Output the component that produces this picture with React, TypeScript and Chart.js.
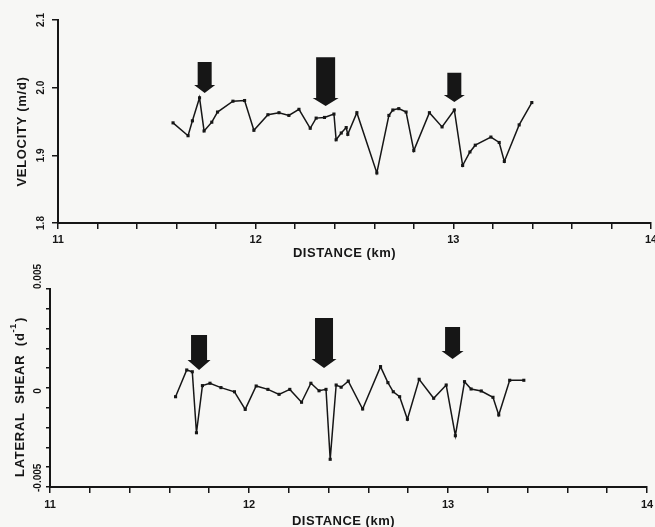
import React, { useEffect, useRef } from 'react';
import { Chart, registerables } from 'chart.js';

Chart.register(...registerables);

// ---------- data ----------
const velocityKm = [11.582, 11.658, 11.680, 11.716, 11.739, 11.778, 11.807, 11.885, 11.944, 11.991, 12.062, 12.118, 12.168, 12.219, 12.276, 12.306, 12.348, 12.396, 12.407, 12.433, 12.458, 12.466, 12.512, 12.613, 12.674, 12.694, 12.724, 12.761, 12.800, 12.879, 12.943, 13.005, 13.047, 13.084, 13.111, 13.190, 13.232, 13.258, 13.333, 13.397];
const velocityValues = [1.948, 1.929, 1.951, 1.985, 1.936, 1.949, 1.964, 1.980, 1.981, 1.937, 1.960, 1.963, 1.959, 1.968, 1.940, 1.955, 1.956, 1.961, 1.923, 1.933, 1.941, 1.931, 1.963, 1.874, 1.959, 1.967, 1.969, 1.964, 1.907, 1.963, 1.942, 1.967, 1.885, 1.905, 1.915, 1.927, 1.919, 1.891, 1.945, 1.978];

const shearKm = [11.631, 11.687, 11.715, 11.736, 11.766, 11.804, 11.859, 11.927, 11.981, 12.036, 12.095, 12.151, 12.205, 12.264, 12.311, 12.352, 12.387, 12.408, 12.438, 12.463, 12.499, 12.571, 12.661, 12.698, 12.725, 12.757, 12.796, 12.855, 12.928, 12.991, 13.037, 13.083, 13.116, 13.167, 13.226, 13.255, 13.310, 13.381];
const shearValues = [-0.00044, 0.00091, 0.00082, -0.00226, 0.00012, 0.00024, 0.00002, -0.00019, -0.00108, 0.00010, -0.00007, -0.00032, -0.00007, -0.00072, 0.00024, -0.00014, -0.00007, -0.00360, 0.00015, 0.00004, 0.00035, -0.00106, 0.00108, 0.00027, -0.00019, -0.00044, -0.00158, 0.00044, -0.00052, 0.00015, -0.00241, 0.00032, -0.00005, -0.00015, -0.00047, -0.00136, 0.00039, 0.00039];

const distanceTickValues = [11, 12, 13, 14];
const distanceTickLabels = ['11', '12', '13', '14'];
const velocityTickValues = [1.8, 1.9, 2.0, 2.1];
const velocityTickLabels = ['1.8', '1.9', '2.0', '2.1'];
const shearTickValues = [-0.005, 0, 0.005];
const shearTickLabels = ['-0.005', '0', '0.005'];

// arrow annotations (data units): centre km, top value, tip value
const velocityArrowKm = [11.742, 12.354, 13.005];
const velocityArrowTop = [2.038, 2.045, 2.022];
const velocityArrowTip = [1.992, 1.973, 1.979];
const shearArrowKm = [11.749, 12.377, 13.023];
const shearArrowTop = [0.00268, 0.00354, 0.00308];
const shearArrowTip = [0.00091, 0.00101, 0.00146];

// ---------- styles ----------
const INK = '#161616';
const BG = '#f7f7f5';
const FONT = '"Liberation Sans", Arial, Helvetica, sans-serif';

type PanelCfg = {
  top: number;
  height: number;
  padding: { left: number; right: number; top: number; bottom: number };
  xs: number[];
  ys: number[];
  yMin: number;
  yMax: number;
  yStep: number;
  yTickLen: number;
  yTickValues: number[];
  yTickLabels: string[];
  yTickAlign: ('center' | 'left')[];
  yTickDy: number[];
  yTickDx: number;
  xTickDy: number;
  xTitleDy: number;
  xTitleDx: number;
  yTitleDx: number;
  yTitleDy: number;
  yTitle: string;
  yTitleSup?: string;
  yTitleEnd?: string;
  arrowKm: number[];
  arrowTop: number[];
  arrowTip: number[];
  arrowHalf: number[];
  arrowHead: number[];
};

function overlay(cfg: PanelCfg) {
  return {
    id: 'overlay',
    afterDraw(chart: any) {
      const { ctx, chartArea } = chart;
      const xs = chart.scales.x;
      const ys = chart.scales.y;
      ctx.save();
      ctx.fillStyle = INK;

      // arrows
      cfg.arrowKm.forEach((km, i) => {
        const xc = xs.getPixelForValue(km);
        const yTop = ys.getPixelForValue(cfg.arrowTop[i]);
        const yTip = ys.getPixelForValue(cfg.arrowTip[i]);
        const w = cfg.arrowHalf[i];
        const h = cfg.arrowHead[i];
        const e = 3.5;
        ctx.beginPath();
        ctx.moveTo(xc - w, yTop);
        ctx.lineTo(xc + w, yTop);
        ctx.lineTo(xc + w, yTip - h);
        ctx.lineTo(xc + w + e, yTip - h);
        ctx.lineTo(xc, yTip);
        ctx.lineTo(xc - w - e, yTip - h);
        ctx.lineTo(xc - w, yTip - h);
        ctx.closePath();
        ctx.fill();
      });

      // x tick labels
      ctx.font = `bold 11px ${FONT}`;
      ctx.textAlign = 'center';
      ctx.textBaseline = 'middle';
      distanceTickValues.forEach((v, i) => {
        ctx.fillText(distanceTickLabels[i], xs.getPixelForValue(v), chartArea.bottom + cfg.xTickDy);
      });

      // x title
      ctx.font = `bold 13px ${FONT}`;
      (ctx as any).letterSpacing = '0.5px';
      ctx.fillText('DISTANCE (km)', (chartArea.left + chartArea.right) / 2 + cfg.xTitleDx, chartArea.bottom + cfg.xTitleDy);

      // y tick labels (rotated)
      (ctx as any).letterSpacing = '0px';
      ctx.font = `bold 10px ${FONT}`;
      cfg.yTickValues.forEach((v, i) => {
        const y = ys.getPixelForValue(v) + cfg.yTickDy[i];
        ctx.save();
        ctx.translate(chartArea.left + cfg.yTickDx, y);
        ctx.rotate(-Math.PI / 2);
        ctx.textAlign = cfg.yTickAlign[i];
        ctx.textBaseline = 'middle';
        ctx.fillText(cfg.yTickLabels[i], 0, 0);
        ctx.restore();
      });

      // y title (rotated)
      ctx.save();
      ctx.translate(chartArea.left + cfg.yTitleDx, (chartArea.top + chartArea.bottom) / 2 + cfg.yTitleDy);
      ctx.rotate(-Math.PI / 2);
      ctx.font = `bold 13px ${FONT}`;
      (ctx as any).letterSpacing = '0.7px';
      ctx.textBaseline = 'middle';
      const main = cfg.yTitle;
      const sup = cfg.yTitleSup || '';
      const end = cfg.yTitleEnd || '';
      const wMain = ctx.measureText(main).width;
      const wEnd = ctx.measureText(end).width;
      ctx.font = `bold 9px ${FONT}`;
      const wSup = sup ? ctx.measureText(sup).width + 1 : 0;
      const total = wMain + wSup + wEnd;
      let x0 = -total / 2;
      ctx.textAlign = 'left';
      ctx.font = `bold 13px ${FONT}`;
      ctx.fillText(main, x0, 0);
      x0 += wMain;
      if (sup) {
        ctx.font = `bold 9px ${FONT}`;
        ctx.fillText(sup, x0, -6);
        x0 += wSup;
      }
      if (end) {
        ctx.font = `bold 13px ${FONT}`;
        ctx.fillText(end, x0, 0);
      }
      ctx.restore();

      ctx.restore();
    },
  };
}

function Panel({ cfg }: { cfg: PanelCfg }) {
  const ref = useRef<HTMLCanvasElement | null>(null);
  useEffect(() => {
    if (!ref.current) return;
    const points = cfg.xs.map((x, i) => ({ x, y: cfg.ys[i] }));
    const chart = new Chart(ref.current, {
      type: 'line',
      data: {
        datasets: [
          {
            data: points,
            borderColor: INK,
            backgroundColor: INK,
            borderWidth: 1.5,
            pointRadius: 2.2,
            pointStyle: 'rect',
            pointBorderWidth: 0,
            pointBackgroundColor: INK,
            tension: 0,
          },
        ],
      },
      options: {
        responsive: false,
        animation: false,
        devicePixelRatio: 1,
        layout: { padding: cfg.padding },
        plugins: { legend: { display: false }, tooltip: { enabled: false }, title: { display: false } },
        scales: {
          x: {
            type: 'linear',
            min: 11,
            max: 14,
            ticks: { display: false, stepSize: 0.2 },
            grid: { display: true, drawOnChartArea: false, drawTicks: true, tickLength: 6, color: INK, lineWidth: 1.5 },
            border: { display: true, color: INK, width: 2 },
          },
          y: {
            type: 'linear',
            min: cfg.yMin,
            max: cfg.yMax,
            ticks: { display: false, stepSize: cfg.yStep },
            grid: { display: true, drawOnChartArea: false, drawTicks: true, tickLength: cfg.yTickLen, color: INK, lineWidth: 1.5 },
            border: { display: true, color: INK, width: 2 },
          },
        },
      },
      plugins: [overlay(cfg)],
    } as any);
    return () => chart.destroy();
  }, []);
  return (
    <canvas
      ref={ref}
      width={655}
      height={cfg.height}
      style={{ position: 'absolute', left: 0, top: cfg.top, width: 655, height: cfg.height }}
    />
  );
}

const velocityPanel: PanelCfg = {
  top: 0,
  height: 264,
  padding: { left: 52, right: 3, top: 20, bottom: 35 },
  xs: velocityKm,
  ys: velocityValues,
  yMin: 1.8,
  yMax: 2.1,
  yStep: 0.1,
  yTickLen: 6,
  yTickValues: velocityTickValues,
  yTickLabels: velocityTickLabels,
  yTickAlign: ['center', 'center', 'center', 'center'],
  yTickDy: [0, 0, 0, 0],
  yTickDx: -17,
  xTickDy: 17,
  xTitleDy: 30,
  xTitleDx: -10,
  yTitleDx: -36,
  yTitleDy: 10,
  yTitle: 'VELOCITY (m/d)',
  arrowKm: velocityArrowKm,
  arrowTop: velocityArrowTop,
  arrowTip: velocityArrowTip,
  arrowHalf: [7, 9.5, 7],
  arrowHead: [8, 8, 7],
};

const shearPanel: PanelCfg = {
  top: 264,
  height: 263,
  padding: { left: 46, right: 8, top: 25, bottom: 34 },
  xs: shearKm,
  ys: shearValues,
  yMin: -0.005,
  yMax: 0.005,
  yStep: 0.001,
  yTickLen: 4,
  yTickValues: shearTickValues,
  yTickLabels: shearTickLabels,
  yTickAlign: ['left', 'center', 'left'],
  yTickDy: [5, 3, 0],
  yTickDx: -12,
  xTickDy: 18,
  xTitleDy: 34,
  xTitleDx: -5,
  yTitleDx: -30,
  yTitleDy: 9,
  yTitle: 'LATERAL  SHEAR  (d',
  yTitleSup: '-1',
  yTitleEnd: ')',
  arrowKm: shearArrowKm,
  arrowTop: shearArrowTop,
  arrowTip: shearArrowTip,
  arrowHalf: [8, 9, 7.5],
  arrowHead: [10, 9, 8],
};

export default function App() {
  return (
    <div style={{ position: 'absolute', left: 0, top: 0, width: 655, height: 527, background: BG, overflow: 'hidden' }}>
      <Panel cfg={velocityPanel} />
      <Panel cfg={shearPanel} />
    </div>
  );
}
